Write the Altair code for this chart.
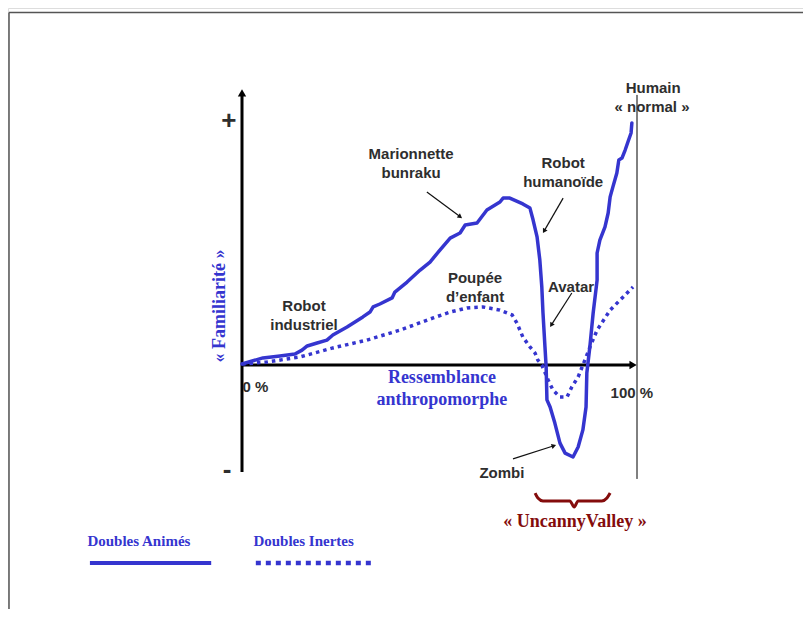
import math
import altair as alt
import pandas as pd

# ---- Data (x: % ressemblance, y: familiarité, 0 = axis, 100 = "+") ----
anim_x = [0, 5.3, 9.6, 13.4, 15.2, 16.5, 19.0, 21.5, 23.0, 26.6, 30.6, 32.4, 33.2, 34.9, 38.0, 38.7,
          41.8, 45.1, 47.6, 50.1, 52.7, 55.2, 56.5, 59.5, 62.0, 65.3, 66.1, 67.8, 71.1, 72.9, 73.7,
          74.7, 75.4, 75.9, 76.2, 76.7, 77.0, 77.2, 78.0, 79.2, 80.5, 81.8, 83.8, 85.1, 86.3, 87.1,
          87.3, 88.1, 88.9, 89.9, 89.9, 90.6, 91.9, 92.7, 93.2, 93.9, 94.9, 95.4, 96.2, 97.0, 97.7,
          98.5, 98.7]
anim_y = [0.4, 2.9, 3.7, 4.5, 6.1, 7.8, 9.0, 10.2, 12.3, 15.6, 19.7, 21.7, 23.8, 25.0, 27.5, 29.9,
          34.0, 38.9, 42.2, 47.1, 52.0, 54.1, 57.4, 58.2, 63.5, 66.8, 68.4, 68.4, 66.0, 64.3, 59.4,
          52.5, 43.0, 32.0, 21.3, 7.4, -0.8, -14.3, -17.2, -23.8, -32.0, -36.1, -37.7, -33.6, -26.6,
          -17.2, -3.3, 8.0, 21.3, 34.8, 45.9, 51.2, 56.6, 62.3, 68.9, 73.0, 78.7, 84.0, 84.8, 88.1,
          91.4, 95.1, 99.2]

inert_x = [0, 6.3, 14.7, 23.0, 31.6, 40.0, 48.4, 52.7, 57.0, 61.0, 65.3, 68.4, 69.6, 71.1, 72.9,
           74.2, 74.9, 75.9, 77.5, 78.7, 80.5, 82.3, 83.5, 85.1, 86.8, 88.1, 89.9, 93.2, 96.5, 99.0]
inert_y = [0.4, 1.2, 3.3, 7.0, 10.2, 14.3, 19.3, 21.7, 23.4, 23.8, 22.5, 20.5, 17.2, 11.5, 7.4,
           4.9, 2.0, 0.0, -6.1, -10.2, -13.1, -13.1, -9.0, -4.9, 2.0, 7.4, 14.3, 22.5, 27.9, 32.0]

label_text = ["Marionnette", "bunraku", "Robot", "industriel", "Poupée", "d’enfant", "Robot",
              "humanoïde", "Avatar", "Zombi", "Humain", "« normal »", "0 %", "100 %"]
label_x = [42.8, 42.8, 15.7, 15.7, 59.0, 59.0, 81.3, 81.3, 83.3, 65.8, 104.1, 103.8, 3.4, 98.7]
label_y = [86.5, 78.7, 24.2, 16.4, 35.7, 27.9, 82.8, 75.0, 32.0, -44.3, 113.5, 105.7, -9.0, -11.5]

sign_text = ["+", "-"]
sign_x = [-3.3, -3.8]
sign_y = [100.0, -43.0]

blue_text = ["Ressemblance", "anthropomorphe", "Doubles Animés", "Doubles Inertes"]
blue_x = [50.6, 50.6, -26.1, 15.6]
blue_y = [-5.3, -14.3, -72.1, -72.1]

# annotation arrows (start -> end)
arr_x1 = [46.8, 81.3, 83.5, 68.6]
arr_y1 = [70.9, 68.4, 29.5, -38.5]
arr_x2 = [55.7, 76.2, 78.0, 79.5]
arr_y2 = [60.2, 54.1, 15.6, -32.8]

brace_x = [74.2, 74.9, 76.2, 83.0, 84.1, 85.1, 91.1, 92.4, 93.2]
brace_y = [-52.5, -54.5, -55.7, -55.7, -58.2, -55.7, -55.7, -54.5, -52.5]

# ---- scales ----
SX, SY = 3.95, 2.44  # px per unit
X = alt.Scale(domain=[0, 100], range=[234, 629], nice=False, zero=False)
Y = alt.Scale(domain=[0, 100], range=[357, 113], nice=False, zero=False)
BLUE = "#3535cf"
GREY = "#2e2e2e"
RED = "#840c0c"


def xy(xf="x", yf="y"):
    return dict(x=alt.X(f"{xf}:Q", scale=X, axis=None), y=alt.Y(f"{yf}:Q", scale=Y, axis=None))


anim = pd.DataFrame({"x": anim_x, "y": anim_y, "o": range(len(anim_x))})
inert = pd.DataFrame({"x": inert_x, "y": inert_y, "o": range(len(inert_x))})

# arrows
ax1, ay1, ax2, ay2, aa = [], [], [], [], []
for x1, y1, x2, y2 in zip(arr_x1, arr_y1, arr_x2, arr_y2):
    dx = (x2 - x1) * SX
    dy = -(y2 - y1) * SY
    L = math.hypot(dx, dy)
    ux, uy = dx / L, dy / L
    ang = math.degrees(math.atan2(ux, -uy)) % 360
    ax1.append(x1); ay1.append(y1)
    ax2.append(x2 - ux * 3 / SX); ay2.append(y2 + uy * 3 / SY)
    aa.append(ang)
arrows = pd.DataFrame({"x": ax1, "y": ay1, "x2": ax2, "y2": ay2, "a": aa})

# axes
axes_df = pd.DataFrame({"x": [0, 0, 100], "y": [-43.9, 0, -46.7],
                        "x2": [0, 98.4, 100], "y2": [111.5, 0, 110.7],
                        "w": [3, 3, 1]})
heads = pd.DataFrame({"x": [0, 98.7], "y": [111.0, 0], "a": [0, 90]})

base = alt.Chart(pd.DataFrame({"k": [0]}))

frame_top = base.mark_rule(color="#555555", strokeWidth=1.5).encode(
    x=alt.value(1), x2=alt.value(795), y=alt.value(4.5))
frame_left = base.mark_rule(color="#555555", strokeWidth=1.5).encode(
    x=alt.value(1), y=alt.value(4.5), y2=alt.value(601))

axis_rules = alt.Chart(axes_df).mark_rule(color="black").encode(
    **xy(), x2="x2:Q", y2="y2:Q", strokeWidth=alt.StrokeWidth("w:Q", scale=None))
axis_heads = alt.Chart(heads).mark_point(shape="triangle", filled=True, color="black",
                                         size=70, opacity=1).encode(
    **xy(), angle=alt.Angle("a:Q", scale=None))

line_anim = alt.Chart(anim).mark_line(color=BLUE, strokeWidth=3.5, strokeJoin="round",
                                      strokeCap="round").encode(**xy(), order="o:Q")
line_inert = alt.Chart(inert).mark_line(color=BLUE, strokeWidth=3.5, strokeDash=[3.5, 4],
                                        strokeCap="butt").encode(**xy(), order="o:Q")

arrow_lines = alt.Chart(arrows).mark_rule(color="#111111", strokeWidth=1.2).encode(
    **xy(), x2="x2:Q", y2="y2:Q")
arrow_heads = alt.Chart(arrows).mark_point(shape="triangle", filled=True, color="#111111",
                                           size=28, opacity=1).encode(
    x=alt.X("x2:Q", scale=X, axis=None), y=alt.Y("y2:Q", scale=Y, axis=None),
    angle=alt.Angle("a:Q", scale=None))

labels_df = pd.DataFrame({"t": label_text, "x": label_x, "y": label_y})
labels = alt.Chart(labels_df).mark_text(font="Liberation Sans", fontWeight="bold", fontSize=15,
                                        color=GREY, align="center", baseline="middle").encode(
    **xy(), text="t:N")

signs = alt.Chart(pd.DataFrame({"t": sign_text, "x": sign_x, "y": sign_y})).mark_text(
    font="Liberation Sans", fontWeight="bold", fontSize=26, color=GREY, align="center",
    baseline="middle").encode(**xy(), text="t:N")

blue_df = pd.DataFrame({"t": blue_text, "x": blue_x, "y": blue_y,
                        "s": [18, 18, 15, 15]})
blue_labels = alt.Chart(blue_df).mark_text(font="Liberation Serif", fontWeight="bold",
                                           color=BLUE, align="center", baseline="middle").encode(
    **xy(), text="t:N", size=alt.Size("s:Q", scale=None))

famil = alt.Chart(pd.DataFrame({"t": ["« Familiarité »"], "x": [-5.6], "y": [24.2]})).mark_text(
    font="Liberation Serif", fontWeight="bold", fontSize=18, color=BLUE, angle=270,
    align="center", baseline="middle").encode(**xy(), text="t:N")

legend_df = pd.DataFrame({"x": [-38.5, 3.5], "x2": [-7.8, 33.2], "y": [-81.1, -81.1],
                          "kind": ["Doubles Animés", "Doubles Inertes"]})
leg_solid = alt.Chart(legend_df.iloc[[0]]).mark_rule(color=BLUE, strokeWidth=4).encode(
    **xy(), x2="x2:Q")
leg_dot = alt.Chart(legend_df.iloc[[1]]).mark_rule(color=BLUE, strokeWidth=4.5,
                                                   strokeDash=[5, 5]).encode(**xy(), x2="x2:Q")

brace = alt.Chart(pd.DataFrame({"x": brace_x, "y": brace_y, "o": range(len(brace_x))})).mark_line(
    color=RED, strokeWidth=3, interpolate="monotone").encode(**xy(), order="o:Q")
uncanny = alt.Chart(pd.DataFrame({"t": ["« UncannyValley »"], "x": [84.3], "y": [-64.3]})).mark_text(
    font="Liberation Serif", fontWeight="bold", fontSize=18, color=RED, align="center",
    baseline="middle").encode(**xy(), text="t:N")

chart = alt.layer(
    frame_top, frame_left, axis_rules, axis_heads, line_inert, line_anim, arrow_lines,
    arrow_heads, labels, signs, blue_labels, famil, leg_solid, leg_dot, brace, uncanny
).properties(
    width=795, height=601, padding=0, autosize=alt.AutoSizeParams(type="none")
).configure_view(stroke=None).configure(background="white")

chart.save("out.html", embed_options={"renderer": "svg", "actions": False})
